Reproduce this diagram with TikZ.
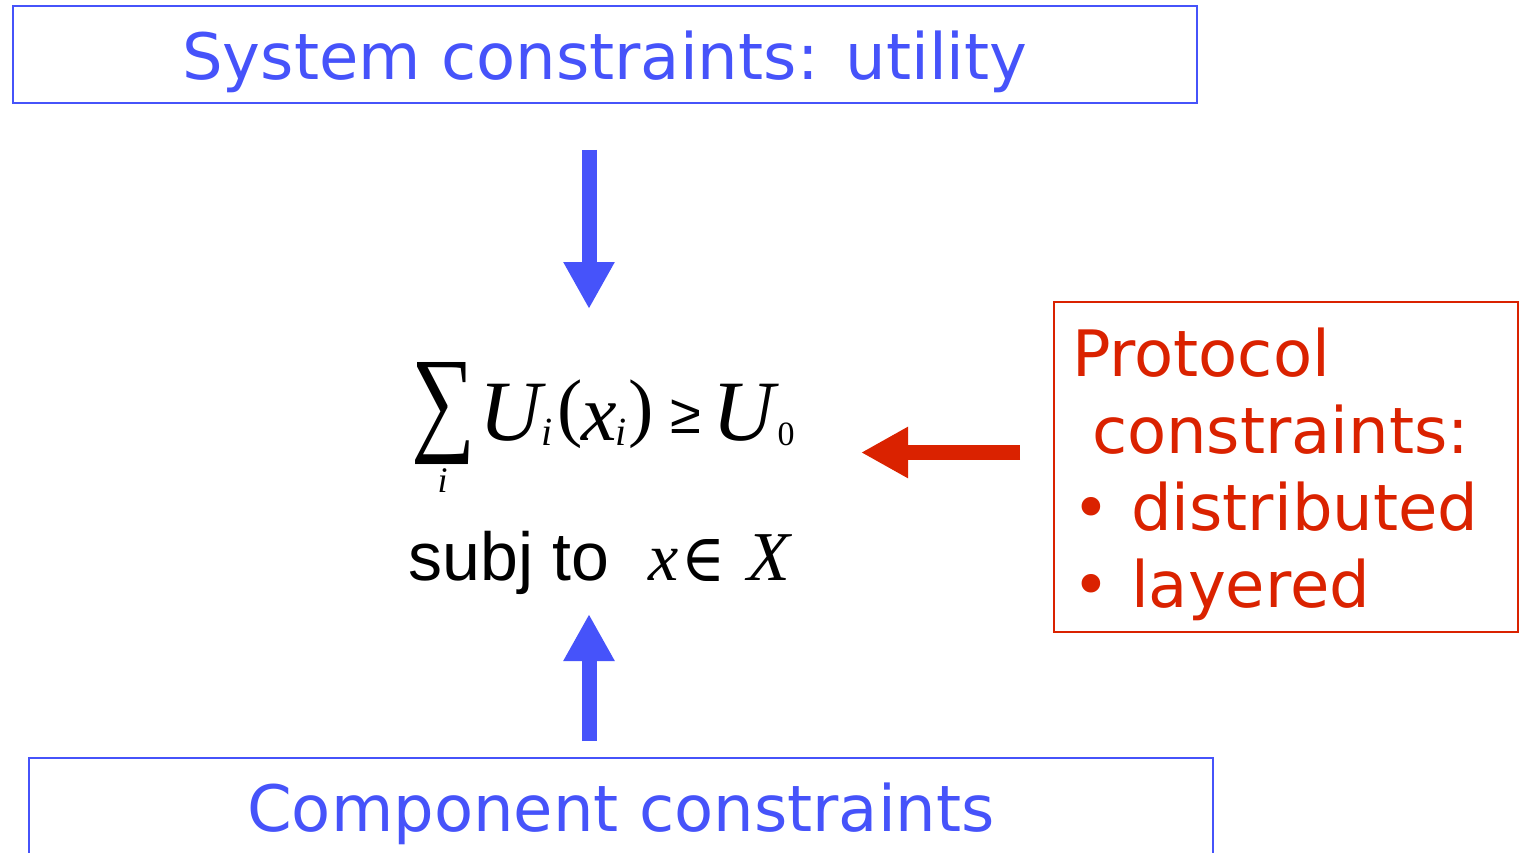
\documentclass[tikz,border=0pt]{standalone}
\usepackage{fontspec}
\usepackage{graphicx}
\setmainfont{DejaVu Sans}
\newfontfamily\tms{Liberation Serif}
\newfontfamily\ars{Liberation Sans}
\newfontfamily\djs{DejaVu Serif}
\usetikzlibrary{arrows.meta}
\definecolor{ublue}{RGB}{70,83,250}
\definecolor{ured}{RGB}{218,34,0}
\newcommand\putat[3]{\rlap{\hspace*{#1pt}\raisebox{#2pt}{#3}}}
\newcommand\fs[1]{\fontsize{#1}{#1}\selectfont}
\begin{document}
\begin{tikzpicture}[x=1pt,y=-1pt,
  bluebox/.style={draw=ublue, line width=2pt, text=ublue, font=\fontsize{64}{77}\selectfont, inner sep=0pt},
  redbox/.style={draw=ured, line width=2pt, text=ured, font=\fontsize{64}{77}\selectfont, align=left, text width=428pt, inner xsep=18pt, inner ysep=10pt},
  fatarrow/.style={line width=15pt, -{Triangle[width=48pt,length=47pt]}},
  mathtext/.style={anchor=base west, inner sep=0pt, text=black}]
\useasboundingbox (0,0) rectangle (1526,853);
\clip (0,0) rectangle (1526,853);
\node[bluebox, minimum width=1184pt, minimum height=97pt, text height=51pt, text depth=0pt] (sys) at (605,54.5) {System constraints: utility};
\node[bluebox, minimum width=1184pt, minimum height=102pt, text height=44pt, text depth=0pt] (comp) at (621,809) {Component constraints};
\node[redbox, anchor=north west] (proto) at (1053,301) {\rule{0pt}{64pt}Protocol\\\hspace*{20pt}constraints:\\• distributed\\• layered\rule[-15pt]{0pt}{15pt}};
% objective
\node[mathtext] (obj) at (487,440) {%
\putat{-76}{-25}{\resizebox*{64pt}{102pt}{\raisebox{\depth}{\tms ∑}}}%
\putat{-50}{-52}{\fs{36}\tms\itshape i}%
\putat{-8}{0}{\fs{86}\tms\itshape U}%
\putat{54}{-5}{\fs{40}\tms\itshape i}%
\putat{70}{8}{\fs{76}\tms (}%
\putat{94}{0}{\fs{80}\tms\itshape x}%
\putat{128}{-5}{\fs{40}\tms\itshape i}%
\putat{141}{8}{\fs{76}\tms )}%
\putat{183}{7}{\fs{56}\ars ≥}%
\putat{225}{0}{\fs{86}\tms\itshape U}%
\putat{290}{-5}{\fs{34}\tms 0}%
};
% constraint
\node[mathtext] (cons) at (408,580) {%
\putat{0}{0}{\fs{68}\ars subj to}%
\putat{240}{0}{\fs{68}\tms\itshape x}%
\putat{273}{-1}{\resizebox*{44pt}{42pt}{\raisebox{\depth}{\djs ∈}}}%
\putat{339}{0}{\fs{70}\tms\itshape X}%
};
\coordinate (d1) at (589,150);
\coordinate (d2) at (589,309);
\coordinate (u1) at (589,741);
\coordinate (u2) at (589,614);
\coordinate (r1) at (1020,452.5);
\coordinate (r2) at (861,452.5);
\draw[fatarrow, ublue] (d1) -- (d2);
\draw[fatarrow, ublue] (u1) -- (u2);
\draw[fatarrow, ured] (r1) -- (r2);
\end{tikzpicture}
\end{document}
